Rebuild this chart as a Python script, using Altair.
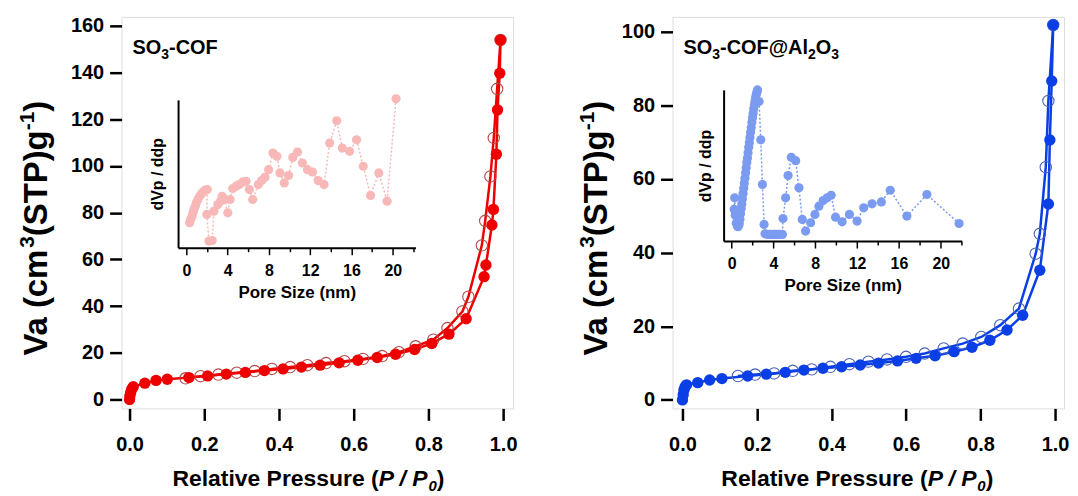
import altair as alt
import pandas as pd

FONT = "Liberation Sans"

# ---------------- SO3-COF (left) ----------------
L_ads_p = [0.0, 0.001, 0.003, 0.006, 0.01, 0.041, 0.071, 0.101, 0.159, 0.209, 0.259, 0.310, 0.361,
           0.411, 0.460, 0.510, 0.561, 0.611, 0.663, 0.712, 0.763, 0.809, 0.855, 0.901, 0.949,
           0.954, 0.970, 0.974, 0.982, 0.985, 0.991, 0.993]
L_ads_v = [0.0, 1.5, 3.0, 4.5, 5.5, 7.0, 8.2, 8.7, 9.4, 10.1, 10.9, 11.6, 12.4,
           13.1, 13.9, 14.7, 15.7, 16.8, 18.0, 19.4, 21.4, 24.0, 28.0, 34.6, 52.6,
           57.6, 74.7, 81.4, 105.0, 124.0, 139.7, 153.9]
L_des_p = [0.993, 0.984, 0.975, 0.966, 0.952, 0.943, 0.907, 0.891, 0.851, 0.813, 0.766, 0.721,
           0.676, 0.625, 0.575, 0.526, 0.476, 0.430, 0.381, 0.335, 0.287, 0.238, 0.190, 0.150]
L_des_v = [153.9, 133.0, 112.0, 95.5, 76.5, 66.0, 44.0, 37.7, 30.6, 25.6, 22.8, 20.3,
           18.6, 17.4, 16.4, 15.6, 14.7, 13.9, 13.1, 12.2, 11.5, 10.7, 10.0, 9.1]

L_ins_d = [0.32, 0.42, 0.55, 0.64, 0.74, 0.87, 0.96, 1.13, 1.29, 1.45, 1.64, 1.83, 2.03, 1.99,
           2.19, 2.51, 2.67, 3.05, 3.31, 3.47, 3.70, 4.02, 4.24, 4.50, 4.82, 5.14, 5.47, 5.79,
           6.11, 6.43, 6.98, 7.30, 7.62, 7.97, 8.39, 8.78, 9.07, 9.49, 9.90, 10.32, 10.77,
           11.25, 11.74, 12.22, 12.77, 13.34, 13.89, 14.57, 15.11, 15.82, 16.50, 17.14, 17.85,
           18.65, 19.45, 20.32]
L_ins_v = [16.9, 19.1, 21.3, 23.6, 25.8, 28.1, 30.3, 32.6, 34.8, 36.4, 37.8, 38.9, 39.3, 22.5,
           4.5, 4.9, 24.7, 29.2, 31.5, 34.8, 32.6, 23.6, 32.6, 40.0, 41.6, 42.7, 44.5, 44.9,
           39.3, 32.6, 42.7, 45.4, 47.6, 52.8, 64.0, 61.8, 50.6, 43.8, 48.8, 61.1, 64.7,
           57.3, 52.8, 51.2, 45.4, 42.7, 70.8, 85.8, 67.4, 65.2, 73.0, 55.1, 35.3,
           50.6, 31.5, 100.7]

# ---------------- SO3-COF@Al2O3 (right) ----------------
R_ads_p = [0.0, 0.002, 0.004, 0.007, 0.011, 0.041, 0.073, 0.106, 0.175, 0.225, 0.276, 0.326,
           0.377, 0.427, 0.477, 0.526, 0.577, 0.627, 0.678, 0.729, 0.777, 0.825, 0.871, 0.913,
           0.959, 0.982, 0.986, 0.991, 0.995]
R_ads_v = [0.0, 1.4, 2.7, 3.6, 4.1, 4.7, 5.4, 5.8, 6.5, 7.0, 7.5, 8.1,
           8.6, 9.0, 9.5, 10.0, 10.6, 11.3, 12.0, 13.1, 14.3, 16.2, 19.0, 23.0,
           35.2, 53.2, 70.6, 86.6, 101.8]
R_des_p = [0.995, 0.982, 0.975, 0.959, 0.948, 0.903, 0.853, 0.802, 0.752, 0.701, 0.650, 0.600,
           0.549, 0.499, 0.448, 0.397, 0.347, 0.296, 0.246, 0.195, 0.149]
R_des_v = [101.8, 81.2, 63.2, 45.1, 39.7, 24.8, 20.3, 17.1, 15.3, 14.0, 12.6, 11.7,
           11.0, 10.4, 9.7, 9.0, 8.3, 7.9, 7.2, 6.9, 6.5]

R_ins_d = [0.25, 0.30, 0.35, 0.45, 0.55, 0.62, 0.68, 0.74, 0.80, 0.86, 0.92, 0.98, 1.04, 1.10,
           1.16, 1.22, 1.28, 1.34, 1.40, 1.46, 1.52, 1.58, 1.64, 1.70, 1.76, 1.82, 1.88, 1.94,
           2.00, 2.06, 2.12, 2.18, 2.24, 2.30, 2.36, 2.42, 2.48, 2.63, 2.79, 2.95, 3.11, 3.20,
           3.43, 3.64, 3.84, 4.03, 4.22, 4.41, 4.60, 4.86, 4.92, 5.17, 5.40, 5.71, 6.13, 6.44,
           6.76, 7.08, 7.56, 7.97, 8.35, 8.76, 9.14, 9.52, 9.94, 10.57, 11.27, 12.00, 12.63,
           13.43, 14.32, 15.17, 16.76, 18.67, 21.75]
R_ins_v = [21.0, 28.6, 17.0, 12.0, 9.9, 9.5, 10.5, 11.5, 14.5, 18.0, 21.5, 24.5, 28.0, 31.5,
           35.0, 38.0, 41.5, 45.0, 48.5, 52.0, 55.0, 58.5, 62.0, 65.0, 68.5, 72.0, 75.0, 78.5,
           81.5, 84.5, 87.5, 90.0, 92.5, 95.0, 97.0, 98.5, 100.0, 92.3, 67.0, 37.4, 11.0, 4.8,
           4.4, 4.4, 4.4, 4.4, 4.4, 4.4, 4.4, 4.4, 14.9, 28.6, 43.3, 55.4, 53.2, 35.2,
           14.3, 6.6, 12.1, 17.6, 23.1, 26.8, 28.6, 30.3, 15.8, 12.7, 17.6, 13.2, 22.0,
           24.6, 25.9, 33.6, 16.5, 30.8, 11.6]

P_TICKS = [0.0, 0.2, 0.4, 0.6, 0.8, 1.0]
D_TICKS = [0, 2, 4, 6, 8, 10, 12, 14, 16, 18, 20, 22]

W = 393
H = 393

# Arial/Liberation Sans Bold advance widths (per 1000 em) for text layout
ADV = {" ": 278, "(": 333, ")": 333, "-": 333, ".": 278, "/": 278, "@": 975,
       "A": 722, "C": 722, "F": 611, "O": 778, "P": 667, "R": 722, "S": 667, "T": 611,
       "V": 667, "a": 556, "c": 556, "e": 556, "g": 611, "i": 278, "l": 278, "m": 889,
       "r": 389, "s": 556, "t": 333, "u": 611, "v": 556}


def tw(s, fs):
    return sum(ADV.get(ch, 556) for ch in s) / 1000.0 * fs


def rich_h(pieces, x0, yb):
    """pieces: (text, size, dy, italic). Horizontal text starting at x0, baseline yb."""
    out = []
    x = x0
    for t, fs, dy, it in pieces:
        kw = dict(align="left", baseline="alphabetic", fontSize=fs, fontWeight="bold",
                  font=FONT, color="black", text=t)
        if it:
            kw["fontStyle"] = "italic"
        out.append(alt.Chart(pd.DataFrame({"k": [0]})).mark_text(**kw).encode(
            x=alt.value(x), y=alt.value(yb + dy)))
        x += tw(t, fs)
    return out


def rich_v(pieces, xb, y0):
    """Vertical (rotated 270) text reading bottom-to-top, baseline at x=xb, starting at y0."""
    out = []
    y = y0
    for t, fs, raise_, it in pieces:
        kw = dict(align="left", baseline="alphabetic", fontSize=fs, fontWeight="bold",
                  font=FONT, color="black", text=t, angle=270)
        out.append(alt.Chart(pd.DataFrame({"k": [0]})).mark_text(**kw).encode(
            x=alt.value(xb - raise_), y=alt.value(y)))
        y -= tw(t, fs)
    return out


def panel(ads_p, ads_v, des_p, des_v, ins_d, ins_v, main_c, open_c, ins_c, label_pieces,
          xdom, ydom, yticks, ins_xdom, ins_xr, ins_yr, ins_tpad, ytitle_x, xtitle_c):
    ads = pd.DataFrame({"p": ads_p, "v": ads_v})
    des = pd.DataFrame({"p": des_p, "v": des_v})
    ins = pd.DataFrame({"d": ins_d, "y": ins_v, "i": list(range(len(ins_d)))})

    xenc = alt.X("p:Q", scale=alt.Scale(domain=xdom, nice=False, zero=False),
                 axis=alt.Axis(values=P_TICKS, format=".1f", title=None,
                               domain=False, grid=False, tickSize=12, tickWidth=2.5,
                               tickColor="black", labelFontSize=20, labelPadding=14,
                               labelFlush=False))
    yenc = alt.Y("v:Q", scale=alt.Scale(domain=ydom, nice=False, zero=False),
                 axis=alt.Axis(values=yticks, title=None,
                               domain=False, grid=False, tickSize=12, tickWidth=2.5,
                               tickColor="black", labelFontSize=20, labelPadding=6,
                               labelFlush=False))

    base_a = alt.Chart(ads)
    base_d = alt.Chart(des)
    layers = [
        base_a.mark_line(color=main_c, strokeWidth=2.5).encode(x=xenc, y=yenc),
        base_d.mark_line(color=main_c, strokeWidth=2.5).encode(x=xenc, y=yenc),
        base_d.mark_point(shape="circle", filled=False, size=130, color=open_c,
                          strokeWidth=1.1, opacity=1).encode(x=xenc, y=yenc),
        base_a.mark_circle(size=130, color=main_c, opacity=1).encode(x=xenc, y=yenc),
    ]
    layers += rich_h(label_pieces, 11, 37)
    xt = [("Relative Pressure (", 23, 0, False), ("P / P", 23, 0, True),
          ("0", 15, 5, True), (")", 23, 0, False)]
    total = sum(tw(t, fs) for t, fs, _, _ in xt) + 1
    layers += rich_h(xt, xtitle_c - total / 2, 471)
    yt = [("Va (cm", 33, 0, False), ("3", 21, 13, False), ("(STP)g", 33, 0, False),
          ("-1", 21, 13, False), (")", 33, 0, False)]
    layers += rich_v(yt, ytitle_x, 340)
    main = alt.layer(*layers)

    ixenc = alt.X("d:Q", scale=alt.Scale(domain=ins_xdom, range=ins_xr, nice=False, zero=False),
                  axis=alt.Axis(orient="bottom", offset=ins_yr[0] - H, values=D_TICKS,
                                labelExpr="datum.value % 4 === 0 ? datum.label : ''",
                                tickSize={"condition": {"test": "datum.value % 4 === 0", "value": 7},
                                          "value": 4},
                                tickWidth=1.5, tickColor="black", domainWidth=2, domainColor="black",
                                grid=False, labelFontSize=16, labelPadding=8,
                                title="Pore Size (nm)", titleFontSize=17, titlePadding=6,
                                labelFlush=False))
    iyenc = alt.Y("y:Q", scale=alt.Scale(domain=[0, 100], range=ins_yr, nice=False, zero=False),
                  axis=alt.Axis(orient="left", offset=-ins_xr[0], ticks=False, labels=False,
                                domainWidth=2, domainColor="black", grid=False,
                                title="dVp / ddp", titleFontSize=16, titlePadding=ins_tpad))
    ibase = alt.Chart(ins)
    inset = alt.layer(
        ibase.mark_line(color=ins_c, strokeWidth=1.5, strokeDash=[2, 2]).encode(
            x=ixenc, y=iyenc, order="i:Q"),
        ibase.mark_circle(size=85, color=ins_c, opacity=1).encode(x=ixenc, y=iyenc),
    )
    return alt.layer(main, inset).resolve_scale(x="independent", y="independent").properties(
        width=W, height=H)


left = panel(L_ads_p, L_ads_v, L_des_p, L_des_v, L_ins_d, L_ins_v,
             "#ee0000", "#b04a4a", "#f8b8b8",
             [("SO", 20, 0, False), ("3", 14, 5, False), ("-COF", 20, 0, False)],
             [-0.0213, 1.0267], [-3.8, 163.8], [0, 20, 40, 60, 80, 100, 120, 140, 160],
             [-0.8, 22.2], [56.7, 295.0], [231.7, 83.3], 13, -75, 188)
right = panel(R_ads_p, R_ads_v, R_des_p, R_des_v, R_ins_d, R_ins_v,
              "#0b3fe6", "#4a62b5", "#7b9bf0",
              [("SO", 20, 0, False), ("3", 14, 5, False), ("-COF@Al", 20, 0, False),
               ("2", 14, 5, False), ("O", 20, 0, False), ("3", 14, 5, False)],
              [-0.0267, 1.024], [-2.3, 104.0], [0, 20, 40, 60, 80, 100],
              [-0.76, 22.0], [51.3, 290.3], [225.0, 73.3], 10, -66, 186)

chart = alt.hconcat(left, right, spacing=160, bounds="flush").properties(
    padding={"left": 8, "top": 6, "right": 0, "bottom": 0}
).configure_view(stroke="black", strokeWidth=2.5).configure(
    font=FONT
).configure_axis(labelFont=FONT, titleFont=FONT, labelFontWeight="bold",
                 titleFontWeight="bold", labelColor="black", titleColor="black")

chart.save("out.html", embed_options={"renderer": "svg", "actions": False})
